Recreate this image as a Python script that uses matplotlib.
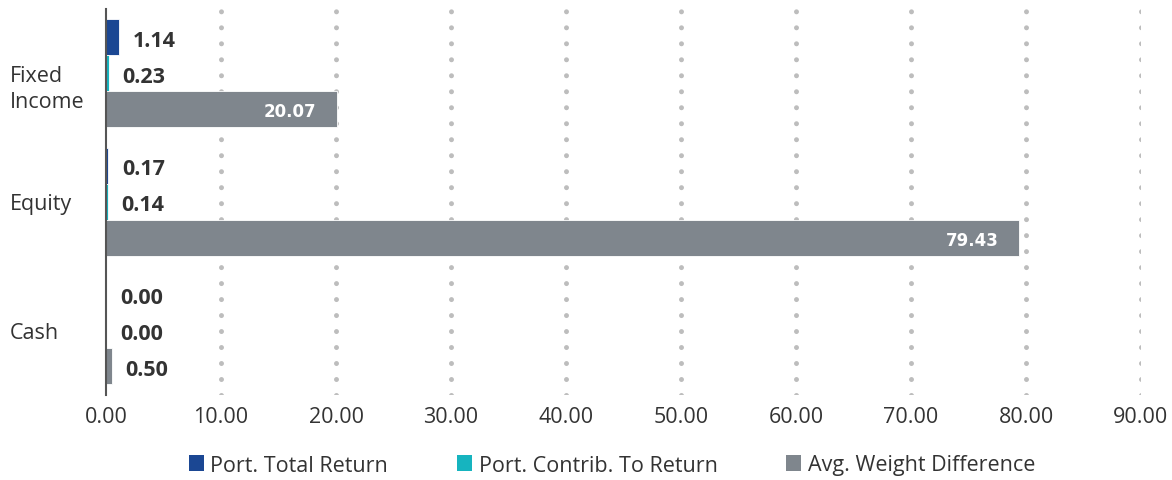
import numpy as np
import matplotlib.pyplot as plt
from matplotlib.patches import Patch
from matplotlib.transforms import blended_transform_factory

plt.rcParams['font.family'] = ['Open Sans', 'DejaVu Sans']
plt.rcParams['lines.scale_dashes'] = False

# data
categories = ["Fixed\nIncome", "Equity", "Cash"]
series_names = ["Port. Total Return", "Port. Contrib. To Return", "Avg. Weight Difference"]
total_return = [1.14, 0.17, 0.00]
contrib_return = [0.23, 0.14, 0.00]
weight_diff = [20.07, 79.43, 0.50]
x_ticks = [0, 10, 20, 30, 40, 50, 60, 70, 80, 90]

colors = ["#1b4793", "#16b4bf", "#7f868d"]
text_color = "#333333"

fig = plt.figure(figsize=(11.72, 4.81), dpi=100)
ax = fig.add_axes([106 / 1172, 1 - 395.5 / 481, 1035 / 1172, 385.5 / 481])

y = np.arange(len(categories))
h = 0.28
offsets = [-h, 0, h]
all_series = [total_return, contrib_return, weight_diff]

for vals, off, col in zip(all_series, offsets, colors):
    ax.barh(y + off, vals, height=h, color=col, edgecolor='white', linewidth=0.6, zorder=2)

# value labels
for k, (vals, off) in enumerate(zip(all_series, offsets)):
    for i, v in enumerate(vals):
        if k == 2 and v > 5:
            ax.annotate(f"{v:.2f}", xy=(v, i + off), xytext=(-21, -2), textcoords='offset pixels',
                        ha='right', va='center', color='white', fontsize=12,
                        fontweight='bold', family='DejaVu Sans', zorder=3)
        else:
            ax.annotate(f"{v:.2f}", xy=(v, i + off), xytext=(14, -3), textcoords='offset pixels',
                        ha='left', va='center', color=text_color, fontsize=15.5,
                        fontweight='bold', zorder=3)

# dotted vertical grid
for t in x_ticks[1:]:
    ax.axvline(t, color='#bdbdbd', linewidth=3.6, linestyle=(0, (0.01, 11.5)),
               dash_capstyle='round', zorder=0)

ax.set_xlim(0, 90)
ax.set_ylim(len(categories) - 0.5, -0.5)
ax.set_xticks(x_ticks)
ax.set_xticklabels([f"{t:.2f}" for t in x_ticks])
ax.tick_params(axis='x', length=0, pad=8.5, labelsize=15.5, labelcolor=text_color)
ax.set_yticks([])

for s in ['top', 'right', 'bottom']:
    ax.spines[s].set_visible(False)
ax.spines['left'].set_color('#555555')
ax.spines['left'].set_linewidth(1.5)
ax.spines['left'].set_zorder(4)

# category names, first line centred on the group
trans = blended_transform_factory(fig.transFigure, ax.transData)
for i, name in enumerate(categories):
    for j, line in enumerate(name.split("\n")):
        ax.annotate(line, xy=(10 / 1172, i), xycoords=trans, xytext=(0, -26 * j - 2),
                    textcoords='offset pixels', ha='left', va='center',
                    fontsize=15.5, color=text_color)

handles = [Patch(facecolor=c, edgecolor='none') for c in colors]
fig.legend(handles, series_names, loc='center', bbox_to_anchor=(612 / 1172, 1 - 466 / 481),
           ncol=3, frameon=False, fontsize=15.5, labelcolor=text_color,
           handlelength=0.7, handleheight=0.7, handletextpad=0.3, columnspacing=3.2)

fig.savefig("out.png", dpi=100)
